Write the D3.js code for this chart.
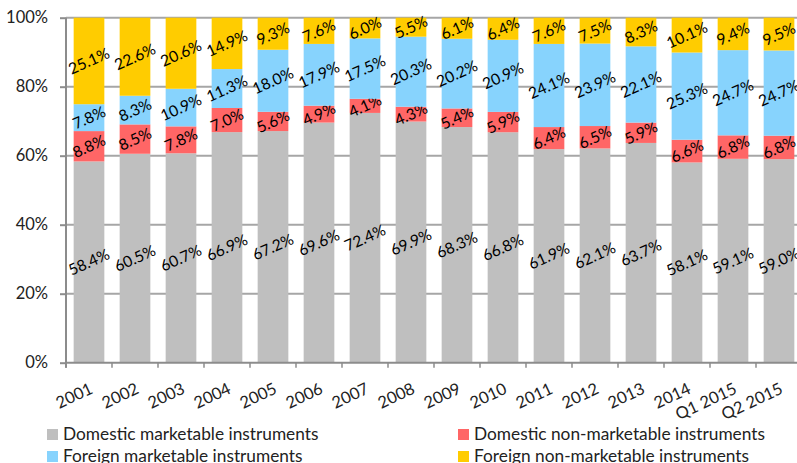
<!DOCTYPE html>
<html>
<head>
<meta charset="utf-8">
<script src="https://cdn.jsdelivr.net/npm/d3@7"></script>
<style>
  body { margin: 0; background: #fff; }
  text { font-family: Lato, "Open Sans", sans-serif; }
</style>
</head>
<body>
<div class="chart"></div>
<script>
var categories = ["2001", "2002", "2003", "2004", "2005", "2006", "2007", "2008",
    "2009", "2010", "2011", "2012", "2013", "2014", "Q1 2015", "Q2 2015"];

var seriesNames = ["Domestic marketable instruments", "Domestic non-marketable instruments",
    "Foreign marketable instruments", "Foreign non-marketable instruments"];

var domesticMarketable = [58.4, 60.5, 60.7, 66.9, 67.2, 69.6, 72.4, 69.9, 68.3, 66.8, 61.9, 62.1, 63.7, 58.1, 59.1, 59.0];
var domesticNonMarketable = [8.8, 8.5, 7.8, 7.0, 5.6, 4.9, 4.1, 4.3, 5.4, 5.9, 6.4, 6.5, 5.9, 6.6, 6.8, 6.8];
var foreignMarketable = [7.8, 8.3, 10.9, 11.3, 18.0, 17.9, 17.5, 20.3, 20.2, 20.9, 24.1, 23.9, 22.1, 25.3, 24.7, 24.7];
var foreignNonMarketable = [25.1, 22.6, 20.6, 14.9, 9.3, 7.6, 6.0, 5.5, 6.1, 6.4, 7.6, 7.5, 8.3, 10.1, 9.4, 9.5];

var yTicks = [0, 0.2, 0.4, 0.6, 0.8, 1];

var colors = ["#bfbfbf", "#ff6666", "#87d3fd", "#ffcc00"];

var svgWidth = 797;
var svgHeight = 463;
var margin = { top: 17.7, left: 66 };
var width = 736;
var height = 345;

var svg = d3.select(".chart")
    .append("svg")
    .attr("width", svgWidth)
    .attr("height", svgHeight);

var chart = svg.append("g")
    .attr("transform", `translate(${margin.left},${margin.top})`);

// build rows for the stack
var keys = ["dm", "dn", "fm", "fn"];
var rows = categories.map(function (c, i) {
    return { cat: c, dm: domesticMarketable[i], dn: domesticNonMarketable[i],
        fm: foreignMarketable[i], fn: foreignNonMarketable[i] };
});
var stacked = d3.stack().keys(keys).offset(d3.stackOffsetExpand)(rows);

var xScale = d3.scaleBand().domain(categories).range([0, width])
    .paddingInner(0.333).paddingOuter(0.1665);
var yScale = d3.scaleLinear().domain([0, 1]).range([height, 0]);
var gap = (xScale.step() - xScale.bandwidth()) / 2;

// gridlines
chart.append("g")
    .selectAll("line")
    .data(yTicks.slice(1))
    .enter()
    .append("line")
    .attr("x1", 0)
    .attr("x2", width)
    .attr("y1", function (d) { return yScale(d); })
    .attr("y2", function (d) { return yScale(d); })
    .attr("stroke", "#a6a6a6")
    .attr("stroke-width", 2);

// bars
var layers = chart.selectAll(".layer")
    .data(stacked)
    .enter()
    .append("g")
    .attr("class", "layer")
    .attr("fill", function (d, i) { return colors[i]; });

layers.selectAll("rect")
    .data(function (d) { return d; })
    .enter()
    .append("rect")
    .attr("x", function (d) { return xScale(d.data.cat); })
    .attr("width", xScale.bandwidth())
    .attr("y", function (d) { return yScale(d[1]); })
    .attr("height", function (d) { return yScale(d[0]) - yScale(d[1]); });

// data labels
layers.selectAll("text")
    .data(function (d) {
        var key = d.key;
        return d.map(function (p) { return { p: p, v: p.data[key] }; });
    })
    .enter()
    .append("text")
    .attr("transform", function (d) {
        var cx = xScale(d.p.data.cat) + xScale.bandwidth() / 2;
        var cy = yScale((d.p[0] + d.p[1]) / 2);
        return `translate(${cx},${cy})rotate(-24)`;
    })
    .attr("text-anchor", "middle")
    .attr("dy", "0.35em")
    .attr("font-size", "15.5px")
    .attr("fill", "#000")
    .text(function (d) { return d.v.toFixed(1) + "%"; });

// y-axis
var yAxis = d3.axisLeft(yScale).tickValues(yTicks).tickFormat(d3.format(".0%")).tickSize(6).tickPadding(12);
var yg = chart.append("g").call(yAxis);
yg.select(".domain").attr("stroke", "#8c8c8c").attr("stroke-width", 2).attr("d", `M0,0V${height + 5}`);
yg.selectAll(".tick line").attr("stroke", "#8c8c8c").attr("stroke-width", 2);
yg.selectAll(".tick text").attr("font-size", "16.5px").attr("fill", "#222")
    .style("font-family", "Lato, sans-serif");

// x-axis line and ticks at band edges
chart.append("line")
    .attr("x1", 0).attr("x2", width)
    .attr("y1", height).attr("y2", height)
    .attr("stroke", "#8c8c8c").attr("stroke-width", 2);

chart.append("g")
    .selectAll("line")
    .data(categories)
    .enter()
    .append("line")
    .attr("x1", function (d) { return xScale(d) - gap; })
    .attr("x2", function (d) { return xScale(d) - gap; })
    .attr("y1", height)
    .attr("y2", height + 5)
    .attr("stroke", "#8c8c8c").attr("stroke-width", 1.5);

// x labels
chart.append("g")
    .selectAll("text")
    .data(categories)
    .enter()
    .append("text")
    .attr("transform", function (d) {
        return `translate(${xScale(d) + xScale.bandwidth() / 2 + 5},${height + 30})rotate(-25)`;
    })
    .attr("text-anchor", "end")
    .attr("font-size", "16.5px")
    .attr("fill", "#222")
    .text(function (d) { return d; });

// legend
var legendPos = [[47, 429], [458, 429], [47, 451], [458, 451]];
var legend = svg.selectAll(".legend")
    .data(seriesNames)
    .enter()
    .append("g")
    .attr("class", "legend")
    .attr("transform", function (d, i) { return `translate(${legendPos[i][0]},${legendPos[i][1]})`; });

legend.append("rect")
    .attr("width", 11).attr("height", 11)
    .attr("fill", function (d, i) { return colors[i]; });

legend.append("text")
    .attr("x", 16)
    .attr("y", 11)
    .attr("font-size", "17.3px")
    .attr("fill", "#222")
    .text(function (d) { return d; });
</script>
</body>
</html>
